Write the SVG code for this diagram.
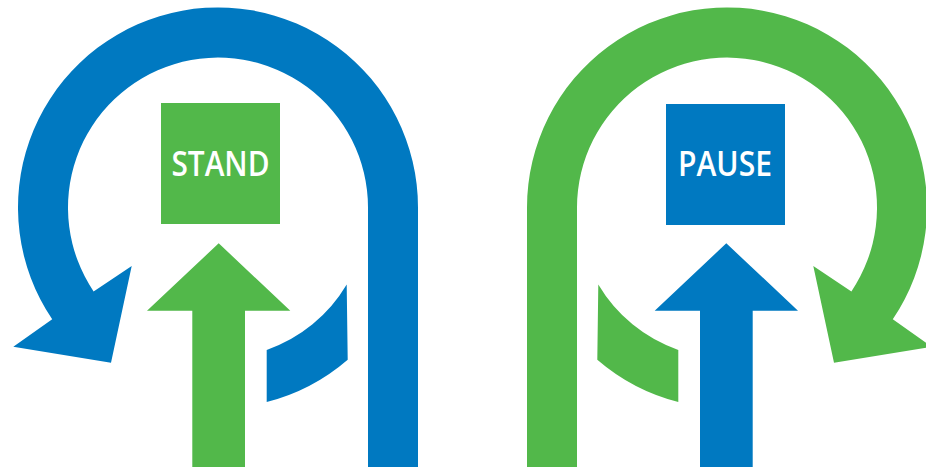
<svg xmlns="http://www.w3.org/2000/svg" xmlns:xlink="http://www.w3.org/1999/xlink" width="926" height="467" viewBox="0 0 926 467">
  <style>
    .blue { fill: #0079C1; }
    .green { fill: #52B84A; }
    .lbl { font-family: "Open Sans", "Liberation Sans", sans-serif; font-weight: 600; font-size: 34.5px; fill: #FFFFFF; text-anchor: middle; }
  </style>
  <defs>
    <path id="loop" d="M418,467 V207.5 A200,200 0 1 0 52.2,319.3 L13.3,346.7 L111,362.7 L131.7,266 L93.6,291.4 A150,150 0 1 1 368,207.5 V467 Z"/>
    <path id="piece" d="M266.7,349.9 A150,150 0 0 0 346.7,284.5 L347.7,359.7 A200,200 0 0 1 266.7,402 Z"/>
    <path id="up" d="M218.7,243.3 L290.3,310.7 L245,310.7 L245,467 L192.3,467 L192.3,310.7 L147,310.7 Z"/>
  </defs>
  <g id="connectors">
    <g id="left-loop" class="blue">
      <use xlink:href="#loop"/>
      <use xlink:href="#piece"/>
    </g>
    <use id="left-up" class="green" xlink:href="#up"/>
    <g id="right-loop" class="green" transform="translate(945,0) scale(-1,1)">
      <use xlink:href="#loop"/>
      <use xlink:href="#piece"/>
    </g>
    <use id="right-up" class="blue" xlink:href="#up" transform="translate(945,0) scale(-1,1)"/>
  </g>
  <g id="stand">
    <rect class="green" x="161" y="103" width="119" height="121"/>
    <text class="lbl" x="220.5" y="175.5" textLength="98" lengthAdjust="spacingAndGlyphs">STAND</text>
  </g>
  <g id="pause">
    <rect class="blue" x="666" y="104" width="119" height="121"/>
    <text class="lbl" x="725" y="176" textLength="94" lengthAdjust="spacingAndGlyphs">PAUSE</text>
  </g>
</svg>
